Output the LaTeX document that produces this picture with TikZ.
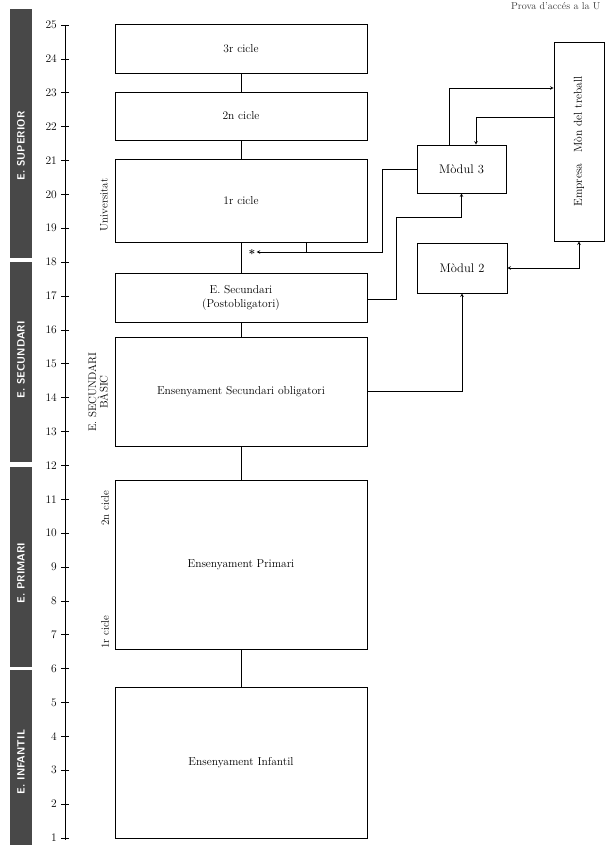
\documentclass[tikz,border=0pt]{standalone}
\usepackage{tikz}
\usetikzlibrary{positioning}
\tikzstyle{plan} = [x = 1pt, y = -1pt, every node/.style={transform shape}]
\definecolor{barColor}{RGB}{72,72,72}
\tikzstyle{stageBox} = [draw, line width=.7pt, minimum width=252pt, inner sep=0pt, align=center, font=\fontsize{11.5}{14}\selectfont]
\tikzstyle{moduleBox} = [draw, line width=.7pt, inner sep=0pt, font=\fontsize{12.5}{14}\selectfont]
\tikzstyle{barText} = [rotate=90, text=white, font=\sffamily\bfseries\fontsize{10.5}{12}\selectfont]
\tikzstyle{sideText} = [rotate=90, align=center, font=\fontsize{11}{11.5}\selectfont]
\tikzstyle{yearText} = [anchor=east, inner sep=1pt, font=\fontsize{11.5}{13}\selectfont]
\tikzstyle{linkLine} = [line width=.6pt]
\tikzstyle{flowLine} = [line width=.6pt, ->, >=stealth]
\newcommand{\yearY}[1]{838 - (#1 - 1) * 33.875}
\newcommand{\stageBar}[3]{\fill [barColor] (10, #1) rectangle (32, #2); \node [barText] at (21, #3)}

\begin{document}
\begin{tikzpicture}[plan]
      \useasboundingbox (0,0) rectangle (605,845);

      % stages
      \stageBar{9}{258}{146} (barSup) {E. SUPERIOR};
      \stageBar{262}{462}{360} (barSec) {E. SECUNDARI};
      \stageBar{467}{667}{573} (barPri) {E. PRIMARI};
      \stageBar{670}{845}{762} (barInf) {E. INFANTIL};

      % age axis
      \draw [linkLine] (65, {\yearY{25}}) -- (65, {\yearY{1} + 2});
      \foreach \year in {1,...,25} {
        \draw [linkLine] (61, {\yearY{\year}}) -- (69, {\yearY{\year}});
        \node [yearText] (year\year) at (58, {\yearY{\year}}) {\year};
      }

      % boxes
      \node [stageBox, minimum height=49pt] (cicleTres) at (241, 48.5) {3r cicle};
      \node [stageBox, minimum height=48pt] (cicleDos) at (241, 116) {2n cicle};
      \node [stageBox, minimum height=83pt] (cicleU) at (241, 200.5) {1r cicle};
      \node [stageBox, minimum height=49pt] (postOblig) at (241, 297.5) {E. Secundari\\(Postobligatori)};
      \node [stageBox, minimum height=109pt] (secOblig) at (241, 391.5) {Ensenyament Secundari obligatori};
      \node [stageBox, minimum height=169pt] (primari) at (241, 564.5) {Ensenyament Primari};
      \node [stageBox, minimum height=151pt] (infantil) at (241, 762.5) {Ensenyament Infantil};

      \node [moduleBox, minimum width=89pt, minimum height=48pt] (modulTres) at (461.5, 169) {Mòdul 3};
      \node [moduleBox, minimum width=90pt, minimum height=50pt] (modulDos) at (462, 268) {Mòdul 2};
      \node [moduleBox, minimum width=50pt, minimum height=199pt] (empresa) at (579, 141.5) {};
      \node [rotate=90, font=\fontsize{11.5}{13}\selectfont] (empresaText) at (empresa.center) {Empresa\quad Mòn del treball};

      % side labels
      \node [sideText] (univ) at (104, 205) {Universitat};
      \node [sideText] (secBasic) at (98, 392) {E. SECUNDARI\\BÀSIC};
      \node [sideText] (priDos) at (105, 508) {2n cicle};
      \node [sideText] (priU) at (105, 632) {1r cicle};
      \node [anchor=east, font=\fontsize{10}{11}\selectfont, text=black!75] (header) at (604, 6) {Prova d'accés a la U};

      % links
      \node [font=\bfseries\fontsize{12}{12}\selectfont, inner sep=1pt] (star) at (252, 254) {*};
      \coordinate (turnA) at (382, 0);
      \coordinate (branchU) at (306, 0);
      \coordinate (turnB) at (396, 217);

      \draw [linkLine] (cicleTres) -- (cicleDos);
      \draw [linkLine] (cicleDos) -- (cicleU);
      \draw [linkLine] (cicleU) -- (postOblig);
      \draw [linkLine] (postOblig) -- (secOblig);
      \draw [linkLine] (secOblig) -- (primari);
      \draw [linkLine] (primari) -- (infantil);

      \draw [flowLine] (modulTres.west) -| (turnA |- 0,252) -- (star.east |- 0,252);
      \draw [linkLine] (cicleU.south -| branchU) -- (branchU |- 0,252);
      \draw [flowLine] ([yshift=-1.5pt]postOblig.east) -| (turnB) -| (modulTres.south);
      \draw [flowLine] (secOblig.east) -| (modulDos.south);
      \draw [flowLine, <->] (empresa.south) |- (modulDos.east);
      \draw [flowLine] ([xshift=-12.5pt]modulTres.north) |- ([yshift=53.5pt]empresa.west);
      \draw [flowLine] ([yshift=24.5pt]empresa.west) -| ([xshift=14.5pt]modulTres.north);
    \end{tikzpicture}
\end{document}
